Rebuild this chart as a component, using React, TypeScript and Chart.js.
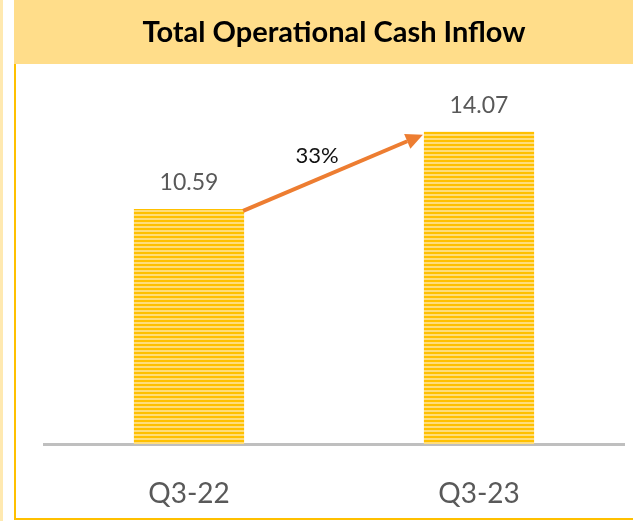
import React, { useEffect, useRef } from "react";
import { Chart, registerables } from "chart.js";

Chart.register(...registerables);

const titleText = "Total Operational Cash Inflow";
const categories = ["Q3-22", "Q3-23"];
const cashInflow = [10.59, 14.07];
const valueLabels = ["10.59", "14.07"];
const growthLabel = "33%";
const yMin = 0;
const yMax = 16;

const FONT = "Lato, 'Open Sans', sans-serif";

function makeStripePattern(): CanvasPattern | string {
  const c = document.createElement("canvas");
  c.width = 8;
  c.height = 4;
  const g = c.getContext("2d");
  if (!g) return "#FFC000";
  g.fillStyle = "#FFC000";
  g.fillRect(0, 0, 8, 2);
  g.fillStyle = "#FFDD7A";
  g.fillRect(0, 2, 8, 2);
  const p = g.createPattern(c, "repeat");
  return p || "#FFC000";
}

const framePlugin = {
  id: "frame",
  beforeDraw(chart: any) {
    const ctx = chart.ctx;
    ctx.save();
    ctx.fillStyle = "#ffffff";
    ctx.fillRect(0, 0, chart.width, chart.height);
    ctx.fillStyle = "#FFE9B0";
    ctx.fillRect(0, 0, 3, chart.height);
    ctx.fillStyle = "#FFDD8A";
    ctx.fillRect(14, 0, chart.width - 14, 64);
    ctx.fillStyle = "#FFC000";
    ctx.fillRect(14, 64, 2, 456);
    ctx.fillRect(14, 518, chart.width - 14, 2);
    ctx.restore();
  },
};

const annotPlugin = {
  id: "annot",
  afterDatasetsDraw(chart: any) {
    const ctx = chart.ctx;
    const meta = chart.getDatasetMeta(0);
    const bars = meta.data;
    ctx.save();
    ctx.font = `23px ${FONT}`;
    ctx.fillStyle = "#595959";
    ctx.textAlign = "center";
    ctx.textBaseline = "middle";
    bars.forEach((b: any, i: number) => {
      ctx.fillText(valueLabels[i], b.x, b.y - 26);
    });
    if (bars.length >= 2) {
      const b0 = bars[0];
      const b1 = bars[1];
      const x0 = b0.x + b0.width / 2 - 1;
      const y0 = b0.y + 2;
      const x1 = b1.x - b1.width / 2 - 1;
      const y1 = b1.y + 3;
      const ang = Math.atan2(y1 - y0, x1 - x0);
      const headLen = 17;
      const headW = 8;
      const bx = x1 - headLen * Math.cos(ang);
      const by = y1 - headLen * Math.sin(ang);
      ctx.strokeStyle = "#ED7D31";
      ctx.fillStyle = "#ED7D31";
      ctx.lineWidth = 4;
      ctx.beginPath();
      ctx.moveTo(x0, y0);
      ctx.lineTo(bx, by);
      ctx.stroke();
      ctx.beginPath();
      ctx.moveTo(x1, y1);
      ctx.lineTo(bx + headW * Math.sin(ang), by - headW * Math.cos(ang));
      ctx.lineTo(bx - headW * Math.sin(ang), by + headW * Math.cos(ang));
      ctx.closePath();
      ctx.fill();
      const mx = (x0 + x1) / 2;
      const my = (y0 + y1) / 2;
      ctx.font = `22px ${FONT}`;
      ctx.fillStyle = "#111111";
      ctx.fillText(growthLabel, mx - 16, my - 17);
    }
    ctx.restore();
  },
};

export default function App() {
  const ref = useRef<HTMLCanvasElement>(null);
  useEffect(() => {
    if (!ref.current) return;
    const chart = new Chart(ref.current, {
      type: "bar",
      data: {
        labels: categories,
        datasets: [
          {
            data: cashInflow,
            backgroundColor: makeStripePattern() as any,
            borderWidth: 0,
            categoryPercentage: 1,
            barPercentage: 0.38,
          },
        ],
      },
      options: {
        animation: false,
        responsive: false,
        layout: { padding: { top: 0, left: 44, right: 9, bottom: 0 } },
        plugins: {
          legend: { display: false },
          tooltip: { enabled: false },
          title: {
            display: true,
            text: titleText,
            color: "#000000",
            font: { family: FONT, size: 29, weight: "bold", lineHeight: 1.2 },
            padding: { top: 15, bottom: 39 },
          },
        },
        scales: {
          x: {
            grid: { display: false },
            border: { display: true, color: "#BFBFBF", width: 3 },
            ticks: {
              color: "#595959",
              font: { family: FONT, size: 28 },
              padding: 25,
            },
            afterFit: (scale: any) => {
              scale.height = 77;
            },
          },
          y: {
            display: false,
            min: yMin,
            max: yMax,
          },
        },
      },
      plugins: [framePlugin, annotPlugin],
    });
    return () => chart.destroy();
  }, []);
  return (
    <div style={{ position: "absolute", left: 0, top: 0, width: 633, height: 521 }}>
      <canvas ref={ref} width={633} height={521} />
    </div>
  );
}
